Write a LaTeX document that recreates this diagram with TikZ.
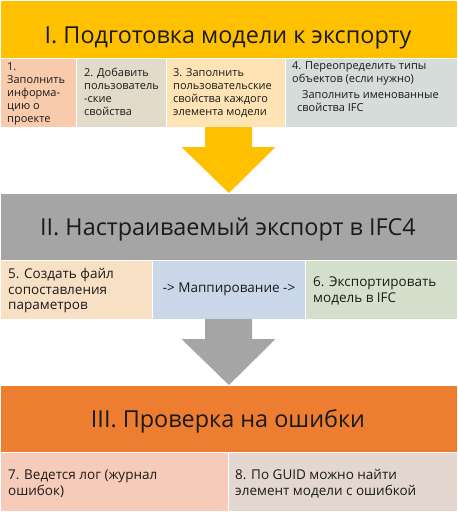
\documentclass[tikz,border=0pt]{standalone}
\usepackage{fontspec}
\setmainfont{Open Sans}
\usetikzlibrary{calc}
\definecolor{cYel}{HTML}{FFC000}
\definecolor{cB1}{HTML}{F8CBAD}
\definecolor{cB2}{HTML}{E2DBCA}
\definecolor{cB3}{HTML}{FEE3B4}
\definecolor{cB4}{HTML}{D6DCDA}
\definecolor{cGray}{HTML}{A5A5A5}
\definecolor{cB5}{HTML}{F8E0C5}
\definecolor{cB6}{HTML}{CAD7E8}
\definecolor{cB7}{HTML}{D4E0CC}
\definecolor{cOra}{HTML}{ED7D31}
\definecolor{cB8}{HTML}{F7CBBA}
\definecolor{cB9}{HTML}{E3D7CF}
\definecolor{cTxt}{HTML}{1A1A1A}
\begin{document}
\begin{tikzpicture}[x=1pt,y=-1pt,
  cell/.style={draw=white, line width=0.8pt, inner sep=0pt, anchor=north west, rectangle},
  headtxt/.style={font=\fontsize{23.4}{28}\selectfont, text=cTxt, inner sep=0pt, anchor=base},
  smalltxt/.style={font=\fontsize{11}{13}\selectfont, align=left, anchor=north west, inner sep=0pt, text=cTxt},
  midtxt/.style={font=\fontsize{13.5}{15.5}\selectfont, align=left, anchor=north west, inner sep=0pt, text=cTxt}]
\useasboundingbox (0,0) rectangle (458,512);
\fill[white] (0,0) rectangle (458,512);
% Section I
\node[cell, fill=cYel, minimum width=457pt, minimum height=58pt] (h1) at (0,0) {};
\node[cell, fill=cB1, minimum width=76pt, minimum height=69pt] (b1) at (0,58) {};
\node[cell, fill=cB2, minimum width=90pt, minimum height=69pt] (b2) at (76,58) {};
\node[cell, fill=cB3, minimum width=119pt, minimum height=69pt] (b3) at (166,58) {};
\node[cell, fill=cB4, minimum width=172pt, minimum height=69pt] (b4) at (285,58) {};
\node[headtxt] (h1t) at (228,43) {I. Подготовка модели к экспорту};
\node[smalltxt] (t1) at (7,60.9) {\strut 1.\\Заполнить\\информа-\\цию о\\проекте};
\node[smalltxt] (t2) at (84,66.9) {\strut 2. Добавить\\пользователь\\-ские\\свойства};
\node[smalltxt] (t3) at (173,66.9) {\strut 3. Заполнить\\пользовательские\\свойства каждого\\элемента модели};
\node[smalltxt] (t4) at (292,59.9) {\strut 4. Переопределить типы\\объектов (если нужно)};
\node[smalltxt] (t4b) at (297,88.9) {\strut\hspace{5pt}Заполнить именованные\\свойства IFC};
% Section II
\node[cell, fill=cGray, minimum width=457pt, minimum height=67pt] (h2) at (0,193) {};
\node[cell, fill=cB5, minimum width=152pt, minimum height=59pt] (b5) at (0,260) {};
\node[cell, fill=cB6, minimum width=153pt, minimum height=59pt] (bm) at (152,260) {};
\node[cell, fill=cB7, minimum width=152pt, minimum height=59pt] (b6) at (305,260) {};
\node[headtxt] (h2t) at (228,235) {II. Настраиваемый экспорт в IFC4};
\node[midtxt] (t5) at (8,267.75) {\strut 5. Создать файл\\сопоставления\\параметров};
\node[midtxt, anchor=north] (tm) at (229,281.75) {\strut -> Маппирование ->};
\node[midtxt] (t6) at (313,275.75) {\strut 6. Экспортировать\\модель в IFC};
% Section III
\node[cell, fill=cOra, minimum width=457pt, minimum height=67pt] (h3) at (0,385) {};
\node[cell, fill=cB8, minimum width=228pt, minimum height=58.5pt] (b7) at (0,452) {};
\node[cell, fill=cB9, minimum width=229pt, minimum height=58.5pt] (b8) at (228,452) {};
\node[headtxt] (h3t) at (228,427) {III. Проверка на ошибки};
\node[midtxt] (t7) at (8,468.75) {\strut 7. Ведется лог (журнал\\ошибок)};
\node[midtxt] (t8) at (235,468.75) {\strut 8. По GUID можно найти\\элемент модели с ошибкой};
% Arrows
\coordinate (a1s) at (228.5,127);
\coordinate (a2s) at (228.5,319);
\fill[cYel] ([xshift=-23.5pt]a1s) -- ([xshift=23.5pt]a1s) -- ([xshift=23.5pt,yshift=-20pt]a1s)
  -- ([xshift=47pt,yshift=-20pt]a1s) -- (h2.north) -- ([xshift=-47pt,yshift=-20pt]a1s)
  -- ([xshift=-23.5pt,yshift=-20pt]a1s) -- cycle;
\fill[cGray] ([xshift=-23.5pt]a2s) -- ([xshift=23.5pt]a2s) -- ([xshift=23.5pt,yshift=-20pt]a2s)
  -- ([xshift=47pt,yshift=-20pt]a2s) -- (h3.north) -- ([xshift=-47pt,yshift=-20pt]a2s)
  -- ([xshift=-23.5pt,yshift=-20pt]a2s) -- cycle;
\end{tikzpicture}
\end{document}
